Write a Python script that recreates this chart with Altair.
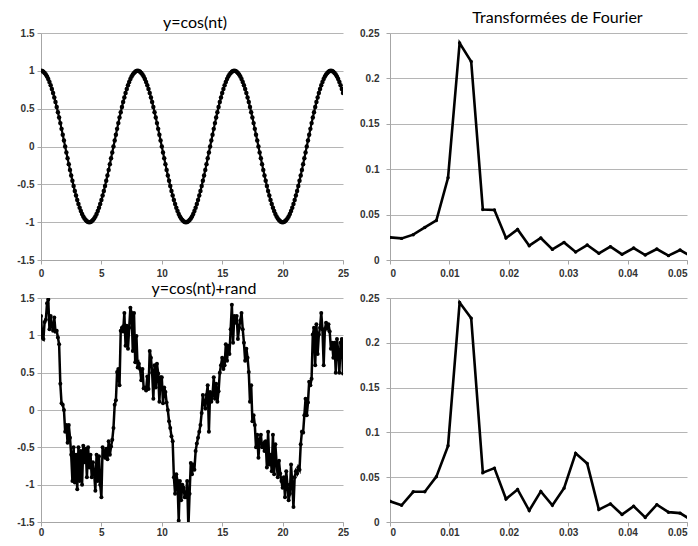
import altair as alt
import pandas as pd

# ---------------- data ----------------
t_vals = [round(i * 0.1, 1) for i in range(251)]

cos_y = [
    1.000, 0.997, 0.988, 0.972, 0.951, 0.924, 0.891, 0.853, 0.809, 0.760,
    0.707, 0.649, 0.588, 0.522, 0.454, 0.383, 0.309, 0.233, 0.156, 0.078,
    0.000, -0.078, -0.156, -0.233, -0.309, -0.383, -0.454, -0.522, -0.588, -0.649,
    -0.707, -0.760, -0.809, -0.853, -0.891, -0.924, -0.951, -0.972, -0.988, -0.997,
    -1.000, -0.997, -0.988, -0.972, -0.951, -0.924, -0.891, -0.853, -0.809, -0.760,
    -0.707, -0.649, -0.588, -0.522, -0.454, -0.383, -0.309, -0.233, -0.156, -0.078,
    0.000, 0.078, 0.156, 0.233, 0.309, 0.383, 0.454, 0.522, 0.588, 0.649,
    0.707, 0.760, 0.809, 0.853, 0.891, 0.924, 0.951, 0.972, 0.988, 0.997,
    1.000, 0.997, 0.988, 0.972, 0.951, 0.924, 0.891, 0.853, 0.809, 0.760,
    0.707, 0.649, 0.588, 0.522, 0.454, 0.383, 0.309, 0.233, 0.156, 0.078,
    0.000, -0.078, -0.156, -0.233, -0.309, -0.383, -0.454, -0.522, -0.588, -0.649,
    -0.707, -0.760, -0.809, -0.853, -0.891, -0.924, -0.951, -0.972, -0.988, -0.997,
    -1.000, -0.997, -0.988, -0.972, -0.951, -0.924, -0.891, -0.853, -0.809, -0.760,
    -0.707, -0.649, -0.588, -0.522, -0.454, -0.383, -0.309, -0.233, -0.156, -0.078,
    0.000, 0.078, 0.156, 0.233, 0.309, 0.383, 0.454, 0.522, 0.588, 0.649,
    0.707, 0.760, 0.809, 0.853, 0.891, 0.924, 0.951, 0.972, 0.988, 0.997,
    1.000, 0.997, 0.988, 0.972, 0.951, 0.924, 0.891, 0.853, 0.809, 0.760,
    0.707, 0.649, 0.588, 0.522, 0.454, 0.383, 0.309, 0.233, 0.156, 0.078,
    0.000, -0.078, -0.156, -0.233, -0.309, -0.383, -0.454, -0.522, -0.588, -0.649,
    -0.707, -0.760, -0.809, -0.853, -0.891, -0.924, -0.951, -0.972, -0.988, -0.997,
    -1.000, -0.997, -0.988, -0.972, -0.951, -0.924, -0.891, -0.853, -0.809, -0.760,
    -0.707, -0.649, -0.588, -0.522, -0.454, -0.383, -0.309, -0.233, -0.156, -0.078,
    0.000, 0.078, 0.156, 0.233, 0.309, 0.383, 0.454, 0.522, 0.588, 0.649,
    0.707, 0.760, 0.809, 0.853, 0.891, 0.924, 0.951, 0.972, 0.988, 0.997,
    1.000, 0.997, 0.988, 0.972, 0.951, 0.924, 0.891, 0.853, 0.809, 0.760,
    0.707,
]

noisy_y = [
    1.26, 0.97, 0.95, 1.18, 1.21, 1.43, 1.48, 1.08, 1.26, 1.12,
    1.06, 1.24, 1.05, 1.06, 0.97, 0.88, 0.35, 0.09, 0.07, 0.00,
    -0.29, -0.20, -0.44, -0.20, -0.37, -0.60, -0.95, -0.50, -0.97, -0.60,
    -1.06, -0.50, -0.95, -0.55, -1.00, -0.48, -0.70, -0.52, -0.90, -0.50,
    -0.77, -0.60, -0.90, -0.70, -0.85, -1.08, -0.60, -0.95, -0.62, -1.00,
    -1.17, -0.50, -0.55, -0.64, -0.52, -0.66, -0.42, -0.60, -0.49, -0.40,
    -0.24, 0.07, 0.13, 0.51, 0.55, 0.33, 1.06, 1.10, 1.05, 1.30,
    0.86, 1.13, 0.82, 1.10, 1.37, 1.30, 0.79, 1.30, 0.64, 0.99,
    0.57, 0.62, 0.55, 0.40, 0.55, 0.29, 0.30, 0.26, 0.45, 0.28,
    0.79, 0.70, 0.50, 0.15, 0.60, 0.30, 0.62, 0.49, 0.11, 0.44,
    0.44, 0.09, 0.30, 0.24, 0.10, 0.00, -0.15, -0.24, -0.35, -0.42,
    -0.90, -1.12, -0.86, -0.95, -1.48, -0.95, -1.21, -1.00, -1.04, -1.17,
    -1.17, -0.95, -1.58, -1.12, -0.71, -0.86, -0.73, -0.80, -0.55, -0.45,
    -0.37, -0.29, -0.20, -0.04, 0.20, 0.10, 0.02, 0.20, 0.33, -0.29,
    0.24, 0.11, 0.20, 0.44, 0.15, 0.35, 0.11, 0.25, 0.50, 0.60,
    0.70, 0.55, 0.60, 0.88, 0.66, 0.86, 0.75, 1.08, 1.41, 0.90,
    1.26, 1.17, 1.26, 0.95, 1.10, 1.20, 1.30, 1.08, 0.90, 0.66,
    0.82, 0.70, 0.51, 0.11, 0.33, -0.15, -0.07, -0.20, -0.50, -0.33,
    -0.64, -0.40, -0.33, -0.50, -0.46, -0.55, -0.42, -0.77, -0.29, -0.73,
    -0.60, -0.82, -0.33, -0.86, -0.46, -0.70, -0.90, -0.68, -0.85, -0.95,
    -1.04, -0.90, -1.17, -0.82, -1.00, -1.21, -1.12, -0.73, -1.00, -1.30,
    -0.90, -0.82, -0.85, -0.77, -0.80, -0.46, -0.29, -0.30, -0.07, 0.15,
    -0.07, 0.10, 0.38, 0.33, 0.42, 1.01, 1.10, 0.60, 1.15, 0.75,
    1.01, 1.10, 1.30, 1.08, 0.60, 1.08, 1.17, 1.10, 1.15, 1.05,
    0.82, 0.90, 0.70, 0.90, 0.50, 0.95, 0.80, 0.50, 0.90, 0.95,
    0.49,
]

freq = [
    0.0, 0.00195, 0.00391, 0.00586, 0.00781, 0.00977, 0.01172, 0.01367,
    0.01563, 0.01758, 0.01953, 0.02148, 0.02344, 0.02539, 0.02734, 0.0293,
    0.03125, 0.0332, 0.03516, 0.03711, 0.03906, 0.04102, 0.04297, 0.04492,
    0.04688, 0.04883, 0.05078,
]

fft_clean = [
    0.0249, 0.0238, 0.0279, 0.0359, 0.0436, 0.0905, 0.2390, 0.2185,
    0.0557, 0.0550, 0.0242, 0.0337, 0.0158, 0.0242, 0.0117, 0.0194,
    0.0088, 0.0165, 0.0073, 0.0147, 0.0062, 0.0132, 0.0055, 0.0121,
    0.0048, 0.0110, 0.0037,
]

fft_noisy = [
    0.0231, 0.0187, 0.0337, 0.0337, 0.0506, 0.0850, 0.2449, 0.2273,
    0.0550, 0.0601, 0.0257, 0.0363, 0.0128, 0.0341, 0.0187, 0.0378,
    0.0766, 0.0652, 0.0139, 0.0202, 0.0084, 0.0176, 0.0051, 0.0194,
    0.0110, 0.0099, 0.0020,
]

t_ticks = [0, 5, 10, 15, 20, 25]
y_ticks = [-1.5, -1, -0.5, 0, 0.5, 1, 1.5]
f_ticks = [0, 0.01, 0.02, 0.03, 0.04, 0.05]
a_ticks = [0, 0.05, 0.1, 0.15, 0.2, 0.25]

df_cos = pd.DataFrame({"x": t_vals, "y": cos_y})
df_noisy = pd.DataFrame({"x": t_vals, "y": noisy_y})
df_fc = pd.DataFrame({"x": freq, "y": fft_clean})
df_fn = pd.DataFrame({"x": freq, "y": fft_noisy})

LABEL_FONT = "Liberation Sans"
TITLE_FONT = "Lato"


def panel(df, xdom, xticks, ydom, yticks, title, w, h, stroke, pt, tdx, toff,
          ylabpad, xlabpad, flush):
    xenc = alt.X(
        "x:Q",
        scale=alt.Scale(domain=xdom, nice=False, zero=False),
        axis=alt.Axis(values=xticks, grid=False, title=None,
                      labelExpr="'' + datum.value", labelFlush=flush,
                      labelOverlap=False, labelPadding=xlabpad),
    )
    yenc = alt.Y(
        "y:Q",
        scale=alt.Scale(domain=ydom, nice=False, zero=False),
        axis=alt.Axis(values=yticks, grid=True, title=None,
                      labelExpr="'' + datum.value", labelFlush=False,
                      labelOverlap=False, labelPadding=ylabpad),
    )
    base = alt.Chart(df)
    line = base.mark_line(color="black", strokeWidth=stroke, clip=True).encode(x=xenc, y=yenc)
    dots = base.mark_circle(color="black", size=pt, opacity=1, clip=True).encode(x=xenc, y=yenc)
    ttl = alt.TitleParams(text=title, font=TITLE_FONT, fontSize=16, fontWeight="normal",
                          color="black", anchor="middle", dx=tdx, offset=toff)
    return alt.layer(line, dots).properties(width=w, height=h, title=ttl)


tl = panel(df_cos, [0, 25], t_ticks, [-1.5, 1.5], y_ticks, "y=cos(nt)",
           302, 227, 2.2, 20, 3, -3, 3, 4, False)
tr = panel(df_fc, [0, 0.05], f_ticks, [0, 0.25], a_ticks, "Transformées de Fourier",
           297, 227, 2.6, 12, 19, 2, 7, 4, True)
bl = panel(df_noisy, [0, 25], t_ticks, [-1.5, 1.5], y_ticks, "y=cos(nt)+rand",
           302, 224, 2.5, 16, 12, -4, 3, 1, False)
br = panel(df_fn, [0, 0.05], f_ticks, [0, 0.25], a_ticks, "",
           297, 224, 2.6, 12, 0, 0, 7, 1, True)

chart = alt.vconcat(
    alt.hconcat(tl, tr, spacing=10),
    alt.hconcat(bl, br, spacing=10),
    spacing=3,
).properties(
    padding={"left": 8, "top": 2, "right": 0, "bottom": 0},
    background="white",
).configure_view(
    stroke=None
).configure_axis(
    labelFont=LABEL_FONT,
    labelFontSize=10,
    labelFontWeight="bold",
    labelColor="#333333",
    domainColor="#a6a6a6",
    domainWidth=1,
    gridColor="#b5b5b5",
    gridWidth=1,
    tickColor="#a6a6a6",
    tickSize=4,
    labelPadding=3,
)

chart.save("out.html", embed_options={"renderer": "svg", "actions": False})
